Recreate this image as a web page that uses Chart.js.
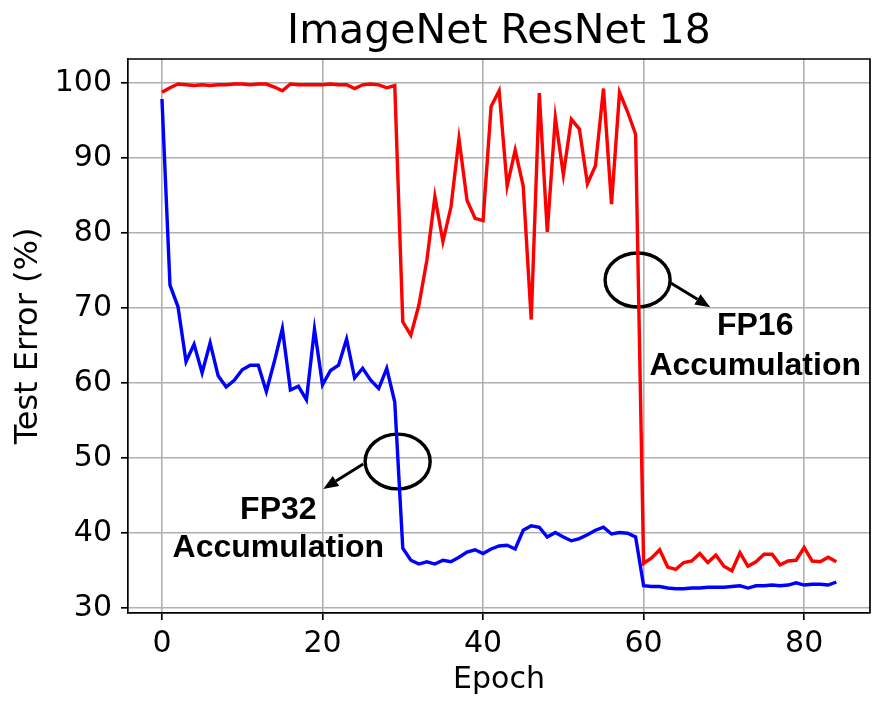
<!DOCTYPE html>
<html><head><meta charset="utf-8">
<script src="https://cdn.jsdelivr.net/npm/chart.js@4.4.1/dist/chart.umd.min.js"></script>
<style>html,body{margin:0;padding:0;background:#fff}</style>
</head><body>
<canvas id="c" width="894" height="713"></canvas>
<script>
// ---- data ----
const epochs = Array.from({length: 85}, (_, i) => i);
const fp16Error = [
  98.8, 99.4, 99.9, 99.8, 99.7, 99.8, 99.7, 99.8, 99.8, 99.9,
  99.9, 99.8, 99.9, 99.9, 99.5, 99.0, 99.9, 99.8, 99.8, 99.8,
  99.8, 99.9, 99.8, 99.8, 99.3, 99.8, 99.9, 99.8, 99.4, 99.7,
  68.2, 66.4, 70.4, 76.4, 84.9, 78.9, 83.5, 92.6, 84.4, 82.0,
  81.7, 96.9, 99.0, 86.3, 91.1, 86.3, 68.5, 98.7, 80.2, 95.4,
  87.8, 95.2, 93.9, 86.6, 89.0, 99.3, 83.9, 98.8, 96.2, 93.2,
  36.0, 36.7, 37.8, 35.5, 35.2, 36.1, 36.3, 37.3, 36.1, 37.1,
  35.6, 35.0, 37.4, 35.6, 36.2, 37.2, 37.2, 35.8, 36.3, 36.4,
  38.1, 36.3, 36.2, 36.8, 36.2
];
const fp32Error = [
  97.9, 73.1, 70.2, 62.9, 65.2, 61.4, 65.4, 61.0, 59.5, 60.4,
  61.8, 62.4, 62.4, 58.9, 62.9, 67.3, 59.1, 59.6, 57.8, 67.2,
  59.8, 61.7, 62.4, 65.9, 60.7, 62.0, 60.4, 59.3, 62.0, 57.5,
  38.0, 36.4, 35.9, 36.2, 35.9, 36.4, 36.2, 36.8, 37.5, 37.8,
  37.3, 37.9, 38.3, 38.4, 37.9, 40.4, 41.0, 40.8, 39.5, 40.1,
  39.5, 39.0, 39.3, 39.8, 40.4, 40.8, 39.9, 40.1, 40.0, 39.5,
  33.0, 32.9, 32.9, 32.7, 32.6, 32.6, 32.7, 32.7, 32.8, 32.8,
  32.8, 32.9, 33.0, 32.7, 33.0, 33.0, 33.1, 33.0, 33.1, 33.4,
  33.1, 33.2, 33.2, 33.1, 33.5
];
const xTicks = [0, 20, 40, 60, 80];
const yTicks = [30, 40, 50, 60, 70, 80, 90, 100];
const chartTitle = 'ImageNet ResNet 18';
const xLabel = 'Epoch';
const yLabel = 'Test Error (%)';
const fp16Label = ['FP16', 'Accumulation'];
const fp32Label = ['FP32', 'Accumulation'];

// annotation placement (data coordinates)
const notes = [
  {ellipse: {x: 59.25, y: 73.77, rx: 4.05, ry: 3.6},
   arrow: {x1: 63.18, y1: 73.5, x2: 68.3, y2: 70.15},
   text: fp16Label, tx: 73.9, ty: [66.44, 61.1]},
  {ellipse: {x: 29.36, y: 49.57, rx: 4.05, ry: 3.65},
   arrow: {x1: 25.07, y1: 49.24, x2: 20.09, y2: 45.91},
   text: fp32Label, tx: 14.5, ty: [41.9, 36.84]}
];

const FONT = 'DejaVu Sans';

const notePlugin = {
  id: 'notes',
  beforeDatasetsDraw(chart) {
    const {ctx, scales: {x, y}} = chart;
    ctx.save();
    ctx.strokeStyle = '#000';
    ctx.lineWidth = 3.4;
    notes.forEach(n => {
      const e = n.ellipse;
      const cx = x.getPixelForValue(e.x), cy = y.getPixelForValue(e.y);
      const rx = Math.abs(x.getPixelForValue(e.x + e.rx) - cx);
      const ry = Math.abs(y.getPixelForValue(e.y + e.ry) - cy);
      ctx.beginPath();
      ctx.ellipse(cx, cy, rx, ry, 0, 0, Math.PI * 2);
      ctx.stroke();
    });
    ctx.restore();
  },
  afterDatasetsDraw(chart) {
    const {ctx, scales: {x, y}} = chart;
    ctx.save();
    notes.forEach(n => {
      const a = n.arrow;
      const x1 = x.getPixelForValue(a.x1), y1 = y.getPixelForValue(a.y1);
      const x2 = x.getPixelForValue(a.x2), y2 = y.getPixelForValue(a.y2);
      const ang = Math.atan2(y2 - y1, x2 - x1);
      const hl = 15, hw = 6;
      const bx = x2 - hl * Math.cos(ang), by = y2 - hl * Math.sin(ang);
      ctx.strokeStyle = '#000';
      ctx.lineWidth = 3;
      ctx.beginPath();
      ctx.moveTo(x1, y1);
      ctx.lineTo(bx, by);
      ctx.stroke();
      ctx.fillStyle = '#000';
      ctx.beginPath();
      ctx.moveTo(x2, y2);
      ctx.lineTo(bx + hw * Math.sin(ang), by - hw * Math.cos(ang));
      ctx.lineTo(bx - hw * Math.sin(ang), by + hw * Math.cos(ang));
      ctx.closePath();
      ctx.fill();
      ctx.font = 'bold 32px "Liberation Sans", Arial, sans-serif';
      ctx.textAlign = 'center';
      ctx.textBaseline = 'alphabetic';
      n.text.forEach((t, i) => {
        ctx.fillText(t, x.getPixelForValue(n.tx), y.getPixelForValue(n.ty[i]));
      });
    });
    // top and right spines
    const ca = chart.chartArea;
    ctx.strokeStyle = '#000';
    ctx.lineWidth = 1.7;
    ctx.beginPath();
    ctx.moveTo(ca.left, ca.top);
    ctx.lineTo(ca.right, ca.top);
    ctx.lineTo(ca.right, ca.bottom);
    ctx.stroke();
    ctx.restore();
  }
};

new Chart(document.getElementById('c'), {
  type: 'line',
  data: {
    datasets: [
      {label: 'FP16', data: epochs.map((e, i) => ({x: e, y: fp16Error[i]})),
       borderColor: '#ff0000', borderWidth: 3.4, pointRadius: 0, tension: 0, fill: false},
      {label: 'FP32', data: epochs.map((e, i) => ({x: e, y: fp32Error[i]})),
       borderColor: '#0000ff', borderWidth: 3.4, pointRadius: 0, tension: 0, fill: false}
    ]
  },
  options: {
    responsive: false,
    animation: false,
    devicePixelRatio: 1,
    layout: {padding: {left: 0, right: 24, top: 0, bottom: 0}},
    plugins: {
      legend: {display: false},
      tooltip: {enabled: false},
      title: {
        display: true, text: chartTitle, color: '#000', fullSize: false,
        font: {family: FONT, size: 41, weight: 'normal', lineHeight: 1.2},
        padding: {top: 8, bottom: 1.8}
      }
    },
    scales: {
      x: {
        type: 'linear', min: -4.23, max: 88.2,
        afterBuildTicks: s => { s.ticks = xTicks.map(v => ({value: v})); },
        afterFit: s => { s.height = 100; },
        ticks: {color: '#000', font: {family: FONT, size: 30}, padding: 6, maxRotation: 0},
        grid: {color: '#b0b0b0', lineWidth: 1.6, tickColor: '#000', tickWidth: 1.7, tickLength: 7},
        border: {color: '#000', width: 1.7},
        title: {display: true, text: xLabel, color: '#000',
          font: {family: FONT, size: 30, lineHeight: 1.2}, padding: {top: 0, bottom: 14.5}}
      },
      y: {
        type: 'linear', min: 29.37, max: 103.24,
        afterBuildTicks: s => { s.ticks = yTicks.map(v => ({value: v})); },
        afterFit: s => { s.width = 128; },
        ticks: {color: '#000', font: {family: FONT, size: 30}, padding: 9},
        grid: {color: '#b0b0b0', lineWidth: 1.6, tickColor: '#000', tickWidth: 1.7, tickLength: 7},
        border: {color: '#000', width: 1.7},
        title: {display: true, text: yLabel, color: '#000',
          font: {family: FONT, size: 32, lineHeight: 1.2}, padding: {top: 9, bottom: 0}}
      }
    }
  },
  plugins: [notePlugin]
});
</script>
</body></html>
